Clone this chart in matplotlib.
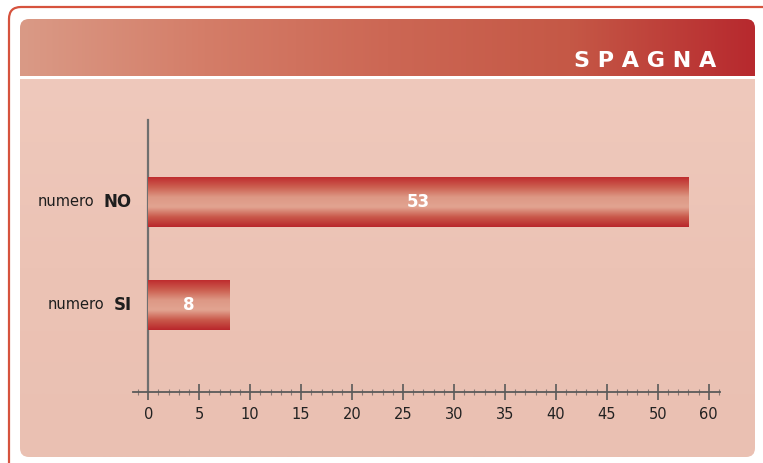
import numpy as np
import matplotlib
matplotlib.use("Agg")
from matplotlib import pyplot as plt
from matplotlib.patches import FancyBboxPatch
from matplotlib.colors import LinearSegmentedColormap
from matplotlib.ticker import FixedLocator, MultipleLocator

# data
title = "SPAGNA"
codes = ["NO", "SI"]
values = [53, 8]
tick_pos = [0, 5, 10, 15, 20, 25, 30, 35, 40, 45, 50, 55]
tick_labels = ["0", "5", "10", "15", "20", "25", "30", "35", "40", "45", "50", "60"]

W, H = 763, 463
fig = plt.figure(figsize=(W / 100, H / 100), dpi=100)
fig.patch.set_facecolor("white")

# background layer in pixel units
bg = fig.add_axes([0, 0, 1, 1])
bg.axis("off")

# outer frame
frame = FancyBboxPatch((9, 7), 800, 520, boxstyle="round,pad=0,rounding_size=12",
                       fc="white", ec="#d6533e", lw=1.6, zorder=0)
bg.add_patch(frame)

# header band with horizontal gradient
head_clip = FancyBboxPatch((20, 19), 735, 90, boxstyle="round,pad=0,rounding_size=9",
                           fc="none", ec="none")
bg.add_patch(head_clip)
head_cmap = LinearSegmentedColormap.from_list(
    "head", ["#da9a86", "#d47d68", "#cc6754", "#c55846", "#b7292e"])
grad = np.linspace(0, 1, 256).reshape(1, -1)
im = bg.imshow(grad, cmap=head_cmap, extent=(20, 755, 76, 19), aspect="auto",
               interpolation="bicubic", zorder=1)
im.set_clip_path(head_clip)

# body panel
body_clip = FancyBboxPatch((20, 40), 735, 417, boxstyle="round,pad=0,rounding_size=9",
                           fc="none", ec="none")
bg.add_patch(body_clip)
body_cmap = LinearSegmentedColormap.from_list("body", ["#efc9bc", "#ecc3b5", "#eac0b2"])
vgrad = np.linspace(0, 1, 256).reshape(-1, 1)
im2 = bg.imshow(vgrad, cmap=body_cmap, extent=(20, 755, 457, 79), aspect="auto",
                origin="upper", zorder=1)
im2.set_clip_path(body_clip)

bg.text(716, 61, " ".join(title), color="white", fontsize=16, fontweight="bold",
        ha="right", va="center", zorder=2)
bg.set_xlim(0, W)
bg.set_ylim(H, 0)

# chart axes
ax = fig.add_axes([133 / W, 1 - 392 / H, (720 - 133) / W, (392 - 120) / H])
ax.patch.set_alpha(0)

for s in ["top", "right"]:
    ax.spines[s].set_visible(False)
ax.spines["left"].set_position(("data", 0))
ax.spines["left"].set_color("#6f6f6f")
ax.spines["left"].set_linewidth(1.6)
ax.spines["bottom"].set_color("#5a5a5a")
ax.spines["bottom"].set_linewidth(1.3)

ax.xaxis.set_major_locator(FixedLocator(tick_pos))
ax.set_xticklabels(tick_labels)
ax.xaxis.set_minor_locator(MultipleLocator(1))
ax.tick_params(axis="x", which="major", direction="inout", length=11, width=1.2,
               color="#5a5a5a", labelsize=10.5, labelcolor="#222222", pad=5)
ax.tick_params(axis="x", which="minor", direction="inout", length=5, width=0.8,
               color="#8a7a76")
ax.set_yticks([])

bar_cmap = LinearSegmentedColormap.from_list(
    "bar", ["#b9262b", "#c9584a", "#e2a491", "#dd9885", "#cc5f50", "#bf2c2e"])
bar_h = 0.485
ypos = [1, 0]
for code, v, y in zip(codes, values, ypos):
    ax.barh(y, v, height=bar_h, color="#c5463f", zorder=2)
    g = ax.imshow(vgrad, cmap=bar_cmap, extent=(0, v, y - bar_h / 2, y + bar_h / 2),
                  aspect="auto", origin="lower", zorder=3, interpolation="bicubic")
    ax.text(v / 2, y, str(v), color="white", fontsize=12, fontweight="bold",
            ha="center", va="center", zorder=4)
    lab = ax.text(-1.6, y, code, fontsize=12, fontweight="bold", color="#1e1e1e",
                  ha="right", va="center")
    ax.annotate("numero", xy=(0, 0.5), xycoords=lab, xytext=(-7, 0),
                textcoords="offset points", ha="right", va="center",
                fontsize=10.5, color="#1e1e1e")

ax.set_xlim(-1.5, 56.1)
ax.set_ylim(-0.845, 1.796)

fig.savefig("out.png", dpi=100)
